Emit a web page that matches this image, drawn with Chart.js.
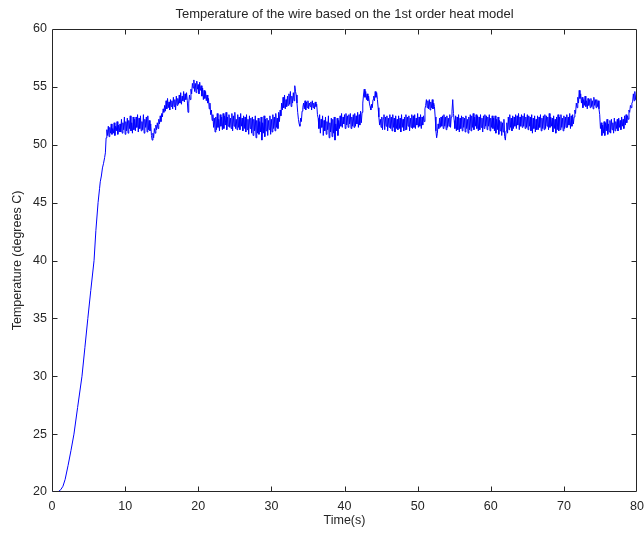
<!DOCTYPE html>
<html>
<head>
<meta charset="utf-8">
<title>Wire temperature</title>
<script src="https://cdn.jsdelivr.net/npm/chart.js@4/dist/chart.umd.min.js"></script>
<style>
  html, body { margin: 0; padding: 0; background: #ffffff; }
  #wrap { width: 644px; height: 533px; }
</style>
</head>
<body>
<div id="wrap"><canvas id="chart" width="644" height="533"></canvas></div>
<script>
// Heating phase: time (s) and temperature (degrees C)
const riseTime = [0, 0.6, 0.9, 1.2, 1.5, 1.8, 2.2, 2.6, 3.0, 3.5, 4.1, 4.5, 4.9, 5.3, 5.75, 6.0, 6.3, 6.5, 6.6, 6.75, 6.9, 7.05, 7.2, 7.3];
const riseTemp = [20.0, 20.0, 20.05, 20.2, 20.5, 21.1, 22.3, 23.6, 25.0, 27.3, 30.0, 32.5, 35.0, 37.4, 40.0, 42.6, 45.0, 46.2, 46.8, 47.3, 48.0, 48.4, 48.9, 49.3];

// Steady phase: logged every 0.1 s from 7.4 s to 80 s (one row per second)
const steadyStart = 7.4;
const steadyStep = 0.1;
const steadyTemp = [
  50.6, 51.3, 50.8, 51.6, 50.7, 51.5, 51.0, 51.8, 50.9, 51.4,   // 7.4 s
  51.0, 51.9, 50.8, 51.6, 51.2, 52.0, 50.9, 51.7, 51.1, 51.8,   // 8.4 s
  51.1, 52.2, 51.0, 51.9, 51.3, 52.4, 50.9, 52.0, 51.2, 52.3,   // 9.4 s
  51.0, 52.1, 51.4, 52.5, 51.2, 51.9, 51.0, 52.4, 51.3, 52.2,   // 10.4 s
  51.2, 52.4, 51.5, 52.6, 51.1, 52.3, 51.4, 52.5, 51.2, 52.0,   // 11.4 s
  51.3, 52.6, 51.0, 52.2, 51.5, 52.4, 51.1, 52.5, 51.3, 52.1,   // 12.4 s
  51.2, 51.8, 50.8, 50.4, 51.0, 50.6, 51.4, 51.0, 51.7, 51.3,   // 13.4 s
  51.9, 51.4, 52.2, 51.8, 52.5, 52.0, 52.7, 52.4, 53.1, 52.8,   // 14.4 s
  53.4, 52.9, 53.8, 53.1, 54.0, 53.2, 53.7, 53.0, 53.9, 53.3,   // 15.4 s
  53.8, 53.1, 54.1, 53.3, 53.9, 53.0, 54.2, 53.4, 54.0, 53.5,   // 16.4 s
  54.3, 53.6, 54.5, 53.5, 54.2, 53.8, 54.6, 53.7, 54.4, 53.9,   // 17.4 s
  54.5, 53.8, 52.8, 53.6, 54.3, 53.9, 54.8, 54.4, 55.3, 54.9,   // 18.4 s
  55.6, 54.6, 55.3, 54.5, 55.5, 54.8, 55.2, 54.4, 55.4, 54.7,   // 19.4 s
  55.1, 54.2, 54.9, 53.9, 54.7, 54.0, 54.6, 53.8, 54.3, 53.6,   // 20.4 s
  54.0, 53.1, 53.6, 52.6, 53.0, 52.1, 52.6, 51.5, 52.3, 51.1,   // 21.4 s
  52.4, 51.3, 52.7, 51.5, 52.2, 51.2, 52.6, 51.6, 52.4, 51.3,   // 22.4 s
  52.7, 51.4, 52.5, 51.7, 52.8, 51.3, 52.4, 51.6, 52.6, 51.5,   // 23.4 s
  52.3, 51.4, 52.7, 51.2, 52.5, 51.6, 52.8, 51.4, 52.2, 51.3,   // 24.4 s
  52.6, 51.5, 52.4, 51.3, 52.7, 51.6, 52.3, 51.2, 52.5, 51.4,   // 25.4 s
  52.4, 51.1, 52.6, 51.3, 52.2, 50.9, 52.5, 51.4, 52.3, 51.0,   // 26.4 s
  52.4, 50.8, 52.2, 51.2, 52.5, 50.6, 52.1, 51.0, 52.3, 50.9,   // 27.4 s
  52.0, 51.1, 52.4, 50.4, 51.9, 51.0, 52.5, 50.7, 52.2, 51.2,   // 28.4 s
  52.3, 50.8, 52.1, 51.3, 52.5, 50.9, 52.2, 51.1, 52.6, 51.4,   // 29.4 s
  52.4, 51.2, 52.7, 51.5, 52.3, 51.4, 52.8, 52.0, 53.0, 52.5,   // 30.4 s
  53.6, 53.0, 54.1, 53.2, 54.3, 53.1, 53.9, 53.3, 54.2, 53.4,   // 31.4 s
  54.4, 53.5, 54.6, 53.3, 54.2, 53.6, 54.5, 53.8, 55.1, 54.6,   // 32.4 s
  54.3, 53.6, 52.8, 52.2, 51.8, 51.6, 52.3, 52.0, 52.9, 53.2,   // 33.4 s
  53.6, 53.1, 53.8, 53.0, 53.7, 53.2, 53.8, 53.1, 53.6, 53.3,   // 34.4 s
  53.7, 53.0, 53.8, 53.2, 53.6, 53.1, 53.7, 53.3, 53.5, 52.6,   // 35.4 s
  52.3, 51.4, 52.6, 51.0, 52.2, 51.5, 52.5, 50.8, 52.1, 51.2,   // 36.4 s
  52.4, 50.9, 52.0, 51.3, 52.5, 50.6, 51.9, 51.1, 52.3, 50.7,   // 37.4 s
  52.2, 51.0, 52.4, 50.4, 51.8, 51.2, 52.3, 50.8, 52.1, 51.4,   // 38.4 s
  52.5, 51.6, 52.7, 51.5, 52.4, 51.8, 52.6, 51.4, 52.7, 51.7,   // 39.4 s
  52.5, 51.5, 52.6, 51.8, 52.7, 51.4, 52.4, 51.6, 52.6, 51.5,   // 40.4 s
  52.7, 51.6, 52.5, 51.8, 52.8, 51.5, 52.6, 51.7, 52.9, 51.9,   // 41.4 s
  52.8, 53.6, 54.3, 54.8, 54.1, 54.6, 53.9, 54.4, 53.8, 54.2,   // 42.4 s
  53.6, 53.3, 53.0, 53.5, 53.2, 53.9, 54.2, 53.8, 54.6, 54.1,   // 43.4 s
  54.5, 53.9, 53.2, 52.4, 51.7, 52.2, 51.5, 52.4, 51.3, 52.3,   // 44.4 s
  52.6, 51.3, 52.4, 51.6, 52.5, 51.2, 52.3, 51.5, 52.6, 51.4,   // 45.4 s
  52.4, 51.2, 52.6, 51.5, 52.3, 51.1, 52.5, 51.4, 52.2, 51.3,   // 46.4 s
  52.5, 51.4, 52.3, 51.1, 52.6, 51.5, 52.2, 51.2, 52.4, 51.3,   // 47.4 s
  52.6, 51.3, 52.4, 51.6, 52.5, 51.2, 52.3, 51.5, 52.6, 51.4,   // 48.4 s
  52.5, 51.5, 52.6, 51.4, 52.3, 51.7, 52.7, 51.5, 52.4, 51.6,   // 49.4 s
  52.6, 51.4, 52.4, 51.7, 52.5, 52.0, 53.1, 53.4, 53.9, 53.2,   // 50.4 s
  53.8, 53.1, 53.9, 53.0, 53.7, 53.2, 53.9, 53.1, 53.6, 53.3,   // 51.4 s
  52.4, 51.2, 50.6, 51.0, 51.8, 51.4, 52.3, 51.5, 52.4, 51.6,   // 52.4 s
  52.5, 51.4, 52.6, 51.6, 52.4, 51.3, 52.5, 51.5, 52.3, 51.6,   // 53.4 s
  52.6, 51.5, 52.4, 52.9, 53.9, 52.7, 52.1, 51.4, 52.5, 51.2,   // 54.4 s
  52.4, 51.3, 52.6, 51.1, 52.3, 51.4, 52.5, 51.2, 52.4, 51.5,   // 55.4 s
  52.3, 51.1, 52.5, 51.4, 52.2, 51.0, 52.4, 51.3, 52.6, 51.2,   // 56.4 s
  52.5, 51.5, 52.7, 51.3, 52.4, 51.6, 52.6, 51.4, 52.5, 51.2,   // 57.4 s
  52.4, 51.3, 52.6, 51.5, 52.3, 51.1, 52.5, 51.4, 52.6, 51.6,   // 58.4 s
  52.5, 51.3, 52.4, 51.6, 52.6, 51.2, 52.3, 51.5, 52.5, 51.4,   // 59.4 s
  52.3, 51.2, 52.5, 51.0, 52.2, 51.3, 52.4, 50.9, 52.1, 51.2,   // 60.4 s
  52.0, 50.8, 51.9, 51.1, 52.2, 50.7, 50.4, 51.2, 51.9, 51.0,   // 61.4 s
  52.4, 51.3, 52.6, 51.5, 52.3, 51.2, 52.5, 51.4, 52.4, 51.6,   // 62.4 s
  52.6, 51.4, 52.5, 51.7, 52.7, 51.3, 52.4, 51.6, 52.6, 51.5,   // 63.4 s
  52.5, 51.6, 52.7, 51.4, 52.4, 51.5, 52.6, 51.3, 52.5, 51.6,   // 64.4 s
  52.4, 51.2, 52.6, 51.0, 52.3, 51.4, 52.5, 51.1, 52.2, 51.3,   // 65.4 s
  52.5, 51.3, 52.4, 51.5, 52.6, 51.2, 52.3, 51.4, 52.5, 51.3,   // 66.4 s
  52.6, 51.4, 52.5, 51.6, 52.4, 51.3, 52.7, 51.5, 52.4, 51.6,   // 67.4 s
  52.3, 51.1, 52.5, 51.4, 52.2, 51.0, 52.4, 51.3, 52.6, 51.2,   // 68.4 s
  52.4, 51.3, 52.6, 51.5, 52.3, 51.2, 52.5, 51.4, 52.4, 51.5,   // 69.4 s
  52.6, 51.5, 52.4, 51.7, 52.7, 51.4, 52.5, 51.6, 52.6, 51.8,   // 70.4 s
  52.4, 53.0, 52.7, 53.6, 53.2, 54.1, 53.6, 54.7, 54.0, 54.4,   // 71.4 s
  53.6, 54.1, 53.2, 53.9, 53.4, 54.2, 53.3, 53.8, 53.1, 54.0,   // 72.4 s
  53.4, 53.9, 53.2, 54.0, 53.3, 53.8, 53.1, 54.1, 53.4, 53.9,   // 73.4 s
  53.2, 53.9, 53.3, 53.8, 53.1, 52.6, 51.4, 51.9, 50.8, 51.7,   // 74.4 s
  51.0, 52.0, 50.8, 51.9, 51.2, 52.2, 50.9, 51.8, 51.1, 52.1,   // 75.4 s
  51.0, 52.2, 51.3, 51.9, 51.0, 52.3, 51.2, 52.0, 51.4, 52.2,   // 76.4 s
  51.2, 52.3, 51.5, 52.1, 51.3, 52.4, 51.6, 52.2, 51.4, 52.5,   // 77.4 s
  51.7, 52.6, 51.9, 52.5, 52.2, 53.0, 52.8, 53.4, 53.2, 53.6,   // 78.4 s
  53.7, 54.4, 53.8, 54.6, 53.9, 54.3, 54.1                      // 79.4 s
];

// Axis ranges and tick spacing
const xRange = [0, 80];
const xTickStep = 10;
const yRange = [20, 60];
const yTickStep = 5;

const titleText = 'Temperature of the wire based on the 1st order heat model';
const xLabel = 'Time(s)';
const yLabel = 'Temperature (degrees C)';

const points = [];
riseTime.forEach((t, i) => points.push({ x: t, y: riseTemp[i] }));
steadyTemp.forEach((v, i) => points.push({ x: +(steadyStart + i * steadyStep).toFixed(2), y: v }));

const FONT = "'Liberation Sans', Arial, Helvetica, sans-serif";
const INK = '#262626';

// Boxed axes with short inward tick marks on all four sides
const frameBox = {
  id: 'frameBox',
  afterDatasetsDraw(chart) {
    const { ctx, chartArea: a, scales } = chart;
    const L = Math.round(a.left) + 0.5, R = Math.round(a.right) - 0.5;
    const T = Math.round(a.top) + 0.5, B = Math.round(a.bottom) - 0.5;
    const len = 5;
    ctx.save();
    ctx.strokeStyle = INK;
    ctx.lineWidth = 1;
    ctx.beginPath();
    ctx.rect(L, T, R - L, B - T);
    scales.x.ticks.forEach(tk => {
      if (tk.value <= xRange[0] || tk.value >= xRange[1]) return;
      const px = Math.round(scales.x.getPixelForValue(tk.value)) + 0.5;
      ctx.moveTo(px, B); ctx.lineTo(px, B - len);
      ctx.moveTo(px, T); ctx.lineTo(px, T + len);
    });
    scales.y.ticks.forEach(tk => {
      if (tk.value <= yRange[0] || tk.value >= yRange[1]) return;
      const py = Math.round(scales.y.getPixelForValue(tk.value)) + 0.5;
      ctx.moveTo(L, py); ctx.lineTo(L + len, py);
      ctx.moveTo(R, py); ctx.lineTo(R - len, py);
    });
    ctx.stroke();
    ctx.restore();
  }
};

new Chart(document.getElementById('chart'), {
  type: 'line',
  data: {
    datasets: [{
      data: points,
      borderColor: '#0000ff',
      borderWidth: 1,
      pointRadius: 0,
      tension: 0,
      fill: false
    }]
  },
  options: {
    responsive: false,
    animation: false,
    devicePixelRatio: 1,
    layout: { padding: { left: 0, right: 7, top: 0, bottom: 0 } },
    plugins: {
      legend: { display: false },
      tooltip: { enabled: false },
      title: {
        display: true,
        text: titleText,
        fullSize: false,
        color: INK,
        font: { family: FONT, size: 13, weight: 'normal', lineHeight: 1.2 },
        padding: { top: 6.4, bottom: 7 }
      }
    },
    scales: {
      x: {
        type: 'linear',
        min: xRange[0],
        max: xRange[1],
        grid: { display: false, drawTicks: false },
        border: { display: false },
        ticks: { stepSize: xTickStep, color: INK, padding: 7, maxRotation: 0,
                 font: { family: FONT, size: 12.5 } },
        title: { display: true, text: xLabel, color: INK,
                 font: { family: FONT, size: 12.5 }, padding: { top: 0, bottom: 4.5 } },
        afterFit(scale) { scale.height = 41; scale.paddingLeft = 0; scale.paddingRight = 0; }
      },
      y: {
        type: 'linear',
        min: yRange[0],
        max: yRange[1],
        grid: { display: false, drawTicks: false },
        border: { display: false },
        ticks: { stepSize: yTickStep, color: INK, padding: 5,
                 font: { family: FONT, size: 12.5 } },
        title: { display: true, text: yLabel, color: INK,
                 font: { family: FONT, size: 12.5 }, padding: { top: 10.5, bottom: 0 } },
        afterFit(scale) { scale.width = 52; scale.paddingTop = 0; scale.paddingBottom = 0; }
      }
    }
  },
  plugins: [frameBox]
});
</script>
</body>
</html>
